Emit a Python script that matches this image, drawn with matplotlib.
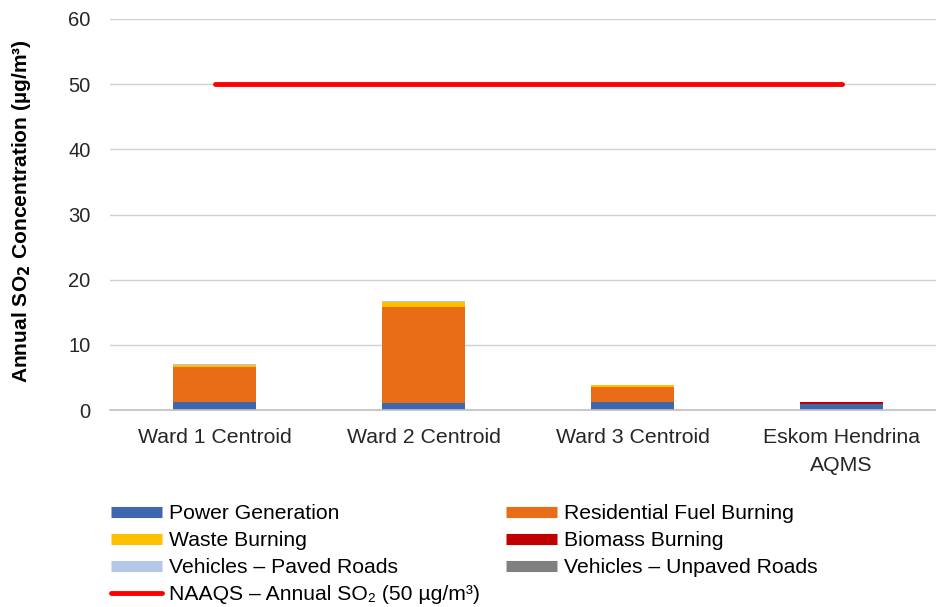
import numpy as np
import matplotlib.pyplot as plt
from matplotlib.lines import Line2D

plt.rcParams['font.family'] = ['Liberation Sans', 'DejaVu Sans']

# Annual SO2 contributions per receptor (ug/m3)
receptors = ["Ward 1 Centroid", "Ward 2 Centroid", "Ward 3 Centroid", "Eskom Hendrina\nAQMS"]
power_generation = [1.2, 1.15, 1.3, 0.95]
residential_fuel = [5.35, 14.7, 2.2, 0.0]
waste_burning = [0.35, 0.75, 0.3, 0.0]
biomass_burning = [0.0, 0.0, 0.0, 0.3]
vehicles_paved = [0.15, 0.1, 0.1, 0.0]
vehicles_unpaved = [0.0, 0.0, 0.0, 0.0]
naaqs_limit = 50

series = [
    ("Power Generation", power_generation, "#3F67B1"),
    ("Residential Fuel Burning", residential_fuel, "#E96C17"),
    ("Waste Burning", waste_burning, "#FFC000"),
    ("Biomass Burning", biomass_burning, "#C00000"),
    ("Vehicles \u2013 Paved Roads", vehicles_paved, "#B4C7E7"),
    ("Vehicles \u2013 Unpaved Roads", vehicles_unpaved, "#808080"),
]

fig = plt.figure(figsize=(9.36, 6.07), dpi=100)
ax = fig.add_axes([110 / 936, 1 - 410 / 607, 836 / 936, 391 / 607])

x = np.arange(len(receptors))
bottom = np.zeros(len(receptors))
for name, vals, col in series:
    vals = np.array(vals)
    ax.bar(x, vals, width=0.4, bottom=bottom, color=col, zorder=3)
    bottom += vals

ax.plot([x[0], x[-1]], [naaqs_limit, naaqs_limit], color="#FF0000", lw=3.5,
        solid_capstyle="round", zorder=4)

ax.set_xlim(-0.5, len(receptors) - 0.5)
ax.set_ylim(0, 60)
ax.set_yticks(np.arange(0, 61, 10))
ax.set_xticks(x)
ax.set_xticklabels(receptors, fontsize=15.3, color="#262626", linespacing=1.6)
ax.tick_params(axis="y", labelsize=14.5, colors="#262626", length=0, pad=14)
ax.tick_params(axis="x", length=0, pad=13)
ax.grid(axis="y", color="#D0D0D0", lw=1, zorder=0)
for s in ["top", "right", "left"]:
    ax.spines[s].set_visible(False)
ax.spines["bottom"].set_color("#BFBFBF")
ax.spines["bottom"].set_linewidth(1.2)
ax.spines["bottom"].set_zorder(5)

fig.text(22 / 936, 1 - 211 / 607, "Annual SO$_\\mathbf{2}$ Concentration (\u00b5g/m\u00b3)",
         rotation=90, ha="center", va="center", fontsize=15.1, fontweight="bold")

# legend: two columns, each placed on its own
def bar_handle(col):
    return Line2D([], [], color=col, lw=8, solid_capstyle="butt")

by_name = {name: col for name, _, col in series}
col1 = ["Power Generation", "Waste Burning", "Vehicles \u2013 Paved Roads"]
col2 = ["Residential Fuel Burning", "Biomass Burning", "Vehicles \u2013 Unpaved Roads"]

h1 = [bar_handle(by_name[n]) for n in col1]
h1.append(Line2D([], [], color="#FF0000", lw=3.5, solid_capstyle="round"))
l1 = col1 + ["NAAQS \u2013 Annual SO\u2082 (50 \u00b5g/m\u00b3)"]
h2 = [bar_handle(by_name[n]) for n in col2]

leg_kw = dict(loc="upper left", frameon=False, fontsize=15.2, handlelength=2.4,
              handletextpad=0.33, labelspacing=0.38, borderpad=0, borderaxespad=0)
fig.legend(h1, l1, bbox_to_anchor=(111 / 936, 1 - 504 / 607), **leg_kw)
fig.legend(h2, col2, bbox_to_anchor=(506 / 936, 1 - 504 / 607), **leg_kw)

fig.savefig("out.png", dpi=100)
